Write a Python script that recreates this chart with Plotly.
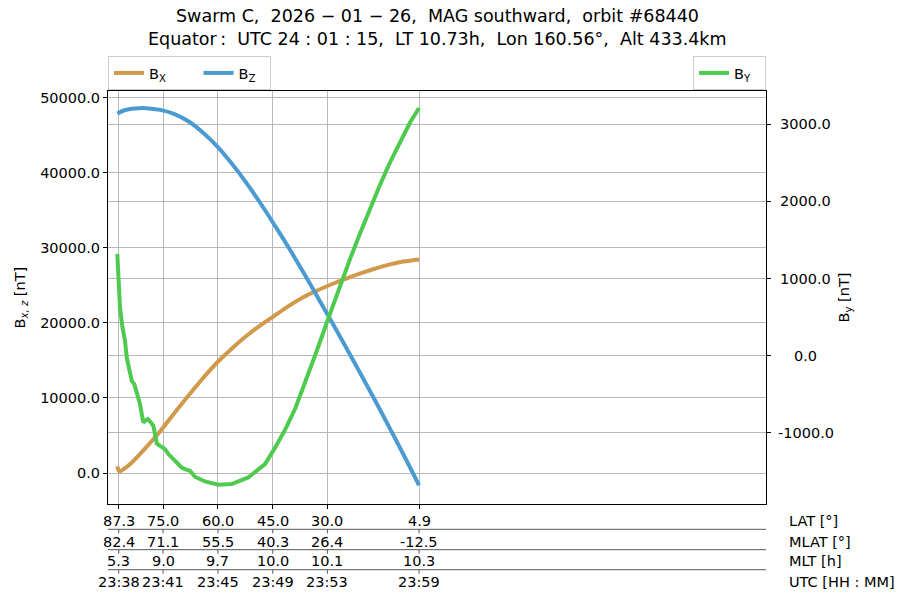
import plotly.graph_objects as go

# ---------------- data (minutes after 23:38 UTC) ----------------
t_bx = [0.0, 0.15, 0.5, 1.0, 1.5, 2.0, 3.0, 4.0, 5.0, 6.0, 7.0, 8.0, 9.0, 10.0, 11.0,
        12.0, 13.0, 14.0, 15.0, 16.0, 17.0, 18.0, 19.0, 20.0, 21.1]
bx = [890, 230, 600, 1370, 2340, 3370, 5560, 8000, 10350, 12650, 14750, 16550, 18200,
      19650, 20960, 22250, 23400, 24320, 25130, 25880, 26570, 27200, 27750, 28150, 28440]

t_bz = [0.0, 0.5, 1.0, 1.5, 2.0, 3.0, 4.0, 5.0, 6.0, 7.0, 8.0, 9.0, 10.0, 11.0, 12.0,
        13.0, 14.0, 15.0, 16.0, 17.0, 18.0, 19.0, 20.0, 21.1]
bz = [47870, 48300, 48500, 48580, 48580, 48350, 47800, 46800, 45300, 43450, 41200,
      38700, 35950, 33000, 29950, 26750, 23450, 20100, 16700, 13250, 9750, 6150, 2500, -1640]

t_by = [0.0, 0.1, 0.19, 0.35, 0.54, 0.66, 0.85, 1.01, 1.19, 1.36, 1.47, 1.59, 1.71, 1.82,
        1.94, 2.13, 2.36, 2.52, 2.64, 2.76, 2.99, 3.34, 3.57, 4.03, 4.50, 4.73, 5.08, 5.43,
        6.13, 7.06, 8.0, 9.16, 10.33, 11.0, 11.73, 12.45, 13.13, 13.9, 14.69, 15.57, 16.27,
        16.97, 17.67, 18.37, 19.07, 19.77, 20.47, 21.1]
by = [1320, 911, 626, 380, 194, -22, -200, -324, -367, -475, -540, -626, -755, -864,
      -842, -820, -864, -907, -1014, -1136, -1166, -1209, -1273, -1360, -1447, -1468, -1490,
      -1567, -1628, -1671, -1662, -1576, -1403, -1200, -960, -680, -350, 40, 451, 906, 1252,
      1585, 1906, 2215, 2505, 2777, 3023, 3211]

# x tick positions (minutes after 23:38) and the stacked label rows
tick_t = [0.1, 3.2, 7.04, 10.87, 14.69, 21.1]
lat_labels = ["87.3", "75.0", "60.0", "45.0", "30.0", "4.9"]
mlat_labels = ["82.4", "71.1", "55.5", "40.3", "26.4", "-12.5"]
mlt_labels = ["5.3", "9.0", "9.7", "10.0", "10.1", "10.3"]
utc_labels = ["23:38", "23:41", "23:45", "23:49", "23:53", "23:59"]
row_names = ["LAT [°]", "MLAT [°]", "MLT [h]", "UTC [HH : MM]"]

bxz_ticks = [0, 10000, 20000, 30000, 40000, 50000]
bxz_ticktext = ["0.0", "10000.0", "20000.0", "30000.0", "40000.0", "50000.0"]
by_ticks = [-1000, 0, 1000, 2000, 3000]
by_ticktext = ["-1000.0", "0.0", "1000.0", "2000.0", "3000.0"]

title1 = "Swarm C,\u00a0 2026 − 01 − 26,\u00a0 MAG southward,\u00a0 orbit #68440"
title2 = "Equator\u2009:\u00a0 UTC 24 : 01 : 15,\u00a0 LT 10.73h,\u00a0 Lon 160.56°,\u00a0 Alt 433.4km"

# ---------------- layout geometry ----------------
W, H = 900, 600
L, R, T, B = 108, 134, 91, 96
PH = H - T - B
PW = W - L - R
FONT = "DejaVu Sans"
FS = 14.5


def py(p):  # pixel y -> paper y
    return (H - B - p) / PH


def px(p):  # pixel x -> paper x
    return (p - L) / PW


C_BX = "#d0994c"
C_BZ = "#4b9bd1"
C_BY = "#4ecb4e"
GRID = "#b8b8b8"

fig = go.Figure()
fig.add_trace(go.Scatter(x=t_bx, y=bx, mode="lines", name="B<sub>X</sub>" + "\u00a0" * 6,
                         line=dict(color=C_BX, width=4, shape="spline"), legend="legend"))
fig.add_trace(go.Scatter(x=t_bz, y=bz, mode="lines", name="B<sub>Z</sub>" + "\u00a0" * 2,
                         line=dict(color=C_BZ, width=4, shape="spline"), legend="legend"))
fig.add_trace(go.Scatter(x=t_by, y=by, mode="lines", name="B<sub>Y</sub>" + "\u00a0" * 2,
                         yaxis="y2", line=dict(color=C_BY, width=4), legend="legend2"))

annotations = []
# title
annotations.append(dict(text=title1, xref="paper", yref="paper", x=0.5, y=py(16),
                        xanchor="center", yanchor="middle", showarrow=False,
                        font=dict(size=17.5, color="black", family=FONT)))
annotations.append(dict(text=title2, xref="paper", yref="paper", x=0.5, y=py(39),
                        xanchor="center", yanchor="middle", showarrow=False,
                        font=dict(size=17.5, color="black", family=FONT)))
# axis titles
annotations.append(dict(text="B<sub><i>x, z</i></sub> [nT]", xref="paper", yref="paper",
                        x=px(20), y=0.5, textangle=-90, showarrow=False,
                        xanchor="center", yanchor="middle",
                        font=dict(size=FS, color="black", family=FONT)))
annotations.append(dict(text="B<sub>y</sub> [nT]", xref="paper", yref="paper",
                        x=px(844), y=0.5, textangle=-90, showarrow=False,
                        xanchor="center", yanchor="middle",
                        font=dict(size=FS, color="black", family=FONT)))
# right tick labels (centred)
for v, s in zip(by_ticks, by_ticktext):
    annotations.append(dict(text=s, xref="paper", yref="y2", x=px(806), y=v,
                            xanchor="center", yanchor="middle", showarrow=False,
                            font=dict(size=FS, color="black", family=FONT)))
# stacked bottom rows
row_centers = [521, 541.5, 561, 581.5]
rows = [lat_labels, mlat_labels, mlt_labels, utc_labels]
for rc, labels, name in zip(row_centers, rows, row_names):
    for t, s in zip(tick_t, labels):
        annotations.append(dict(text=s, xref="x", yref="paper", x=t, y=py(rc),
                                xanchor="center", yanchor="middle", showarrow=False,
                                font=dict(size=FS, color="black", family=FONT)))
    annotations.append(dict(text=name, xref="paper", yref="paper", x=px(786.5), y=py(rc),
                            xanchor="left", yanchor="middle", showarrow=False,
                            font=dict(size=FS, color="black", family=FONT)))

shapes = []
for ly in [529.3, 549.7, 569.7]:
    shapes.append(dict(type="line", xref="paper", yref="paper", x0=0, x1=1,
                       y0=py(ly), y1=py(ly), line=dict(color="#555555", width=1)))
    for t in tick_t:
        shapes.append(dict(type="line", xref="x", yref="paper", x0=t, x1=t,
                           y0=py(ly), y1=py(ly + 4), line=dict(color="#555555", width=1)))

y_lo, y_hi = -4128, 50865
y2_lo, y2_hi = -1920, 3431

fig.update_layout(
    width=W, height=H,
    margin=dict(l=L, r=R, t=T, b=B, pad=0),
    paper_bgcolor="white", plot_bgcolor="white",
    font=dict(family=FONT, size=FS, color="black"),
    showlegend=True,
    legend=dict(orientation="h", x=0, y=py(56), xanchor="left", yanchor="top",
                bordercolor="#cccccc", borderwidth=1, bgcolor="white",
                font=dict(size=FS, family=FONT, color="black")),
    legend2=dict(orientation="h", x=1, y=py(56), xanchor="right", yanchor="top",
                 bordercolor="#cccccc", borderwidth=1, bgcolor="white",
                 font=dict(size=FS, family=FONT, color="black")),
    xaxis=dict(range=[-0.65, 45.36], tickvals=tick_t, showticklabels=False,
               ticks="outside", ticklen=4, tickcolor="black",
               showgrid=True, gridcolor=GRID, gridwidth=0.8, zeroline=False,
               showline=True, linecolor="black", linewidth=1, mirror=True),
    yaxis=dict(range=[y_lo, y_hi], tickvals=bxz_ticks, ticktext=bxz_ticktext,
               ticks="outside", ticklen=4, tickcolor="black",
               tickfont=dict(size=FS, family=FONT, color="black"),
               showgrid=True, gridcolor=GRID, gridwidth=0.8, zeroline=False,
               showline=True, linecolor="black", linewidth=1, mirror=True),
    yaxis2=dict(range=[y2_lo, y2_hi], overlaying="y", side="right",
                tickvals=by_ticks, showticklabels=False,
                ticks="outside", ticklen=4, tickcolor="black",
                showgrid=True, gridcolor=GRID, gridwidth=0.8, zeroline=False,
                showline=True, linecolor="black", linewidth=1),
    annotations=annotations,
    shapes=shapes,
)

fig.write_html("out.html", config={"displayModeBar": False},
               post_script="document.body.style.margin='0px';")
